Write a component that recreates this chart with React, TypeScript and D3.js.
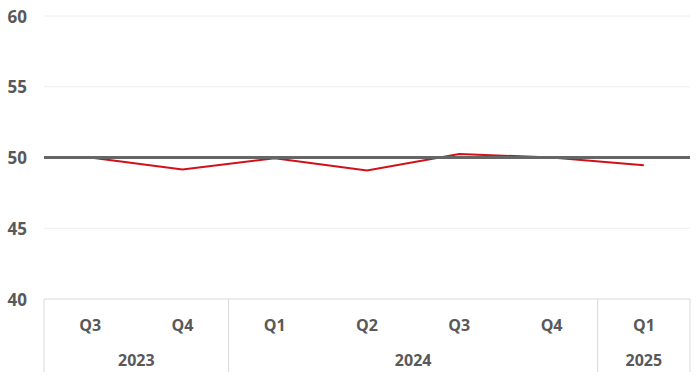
import React from "react";
import * as d3 from "d3";

const quarters = ["Q3", "Q4", "Q1", "Q2", "Q3", "Q4", "Q1"];
const years = ["2023", "2023", "2024", "2024", "2024", "2024", "2025"];
const yearGroups = ["2023", "2024", "2025"];
const values = [50.0, 49.15, 49.95, 49.08, 50.25, 50.0, 49.45];
const yTicks = [40, 45, 50, 55, 60];
const threshold = 50;

const W = 700;
const H = 377;
const M = { left: 44, right: 10, top: 16, plotBottom: 299, bottom: 372 };

export default function App() {
  const idx = quarters.map((_, i) => i);
  const x = d3.scaleBand<number>().domain(idx).range([M.left, W - M.right]).padding(0);
  const y = d3.scaleLinear().domain([40, 60]).range([M.plotBottom, M.top]);
  const line = d3
    .line<number>()
    .x((_, i) => (x(i) as number) + x.bandwidth() / 2)
    .y((d) => y(d));

  const font = "'Open Sans', 'DejaVu Sans', sans-serif";
  const labelColor = "#595959";

  // group boundaries
  const groups = yearGroups.map((yr) => {
    const ids = idx.filter((i) => years[i] === yr);
    const x0 = x(ids[0]) as number;
    const x1 = (x(ids[ids.length - 1]) as number) + x.bandwidth();
    return { yr, x0, x1 };
  });

  return (
    <svg
      width={W}
      height={H}
      style={{ position: "absolute", left: 0, top: 0, background: "#fff" }}
    >
      {yTicks.map((t) => (
        <g key={t}>
          {t !== 40 && (
            <line x1={M.left} x2={W - M.right} y1={y(t)} y2={y(t)} stroke="#eeeeee" strokeWidth={1} />
          )}
          <text
            x={27}
            y={y(t)}
            textAnchor="end"
            dominantBaseline="central"
            fontFamily={font}
            fontWeight="bold"
            fontSize={17}
            fill={labelColor}
          >
            {t}
          </text>
        </g>
      ))}
      {/* axis line */}
      <line x1={M.left} x2={W - M.right} y1={M.plotBottom} y2={M.plotBottom} stroke="#d9d9d9" strokeWidth={1} />
      {/* group separators */}
      {[M.left, ...groups.map((g) => g.x1)].map((gx, i) => (
        <line key={i} x1={gx} x2={gx} y1={M.plotBottom} y2={M.bottom} stroke="#d9d9d9" strokeWidth={1} />
      ))}
      {quarters.map((q, i) => (
        <text
          key={i}
          x={(x(i) as number) + x.bandwidth() / 2}
          y={325}
          textAnchor="middle"
          dominantBaseline="central"
          fontFamily={font}
          fontWeight="bold"
          fontSize={16}
          fill={labelColor}
        >
          {q}
        </text>
      ))}
      {groups.map((g) => (
        <text
          key={g.yr}
          x={(g.x0 + g.x1) / 2}
          y={360}
          textAnchor="middle"
          dominantBaseline="central"
          fontFamily={font}
          fontWeight="bold"
          fontSize={16}
          fill={labelColor}
        >
          {g.yr}
        </text>
      ))}
      <path d={line(values) || ""} fill="none" stroke="#d0101b" strokeWidth={2} />
      <line
        x1={M.left}
        x2={W - M.right}
        y1={y(threshold)}
        y2={y(threshold)}
        stroke="#666666"
        strokeWidth={3}
      />
    </svg>
  );
}
